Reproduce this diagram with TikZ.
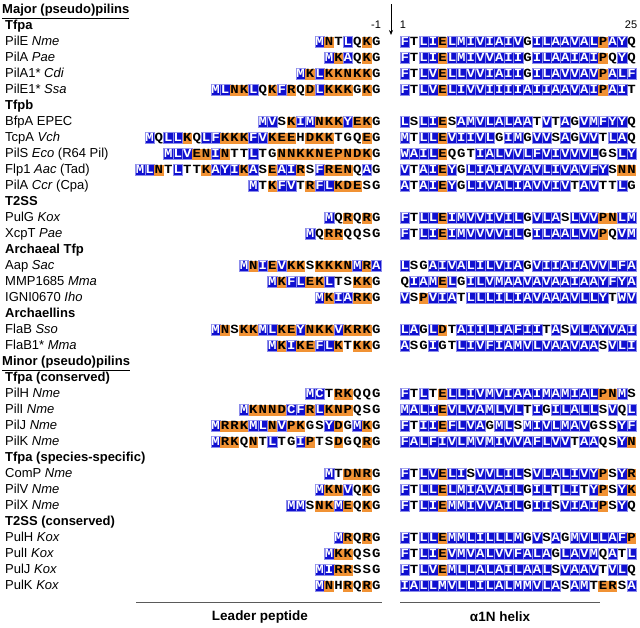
\documentclass[tikz,border=0pt]{standalone}
\usepackage{fontspec}
\setmainfont{Liberation Sans}
\newfontfamily\seqfont{Liberation Mono}[FakeStretch=1.12]
\usetikzlibrary{arrows.meta}
\definecolor{resblue}{RGB}{16,16,208}
\definecolor{resblueedge}{RGB}{140,140,235}
\definecolor{resorange}{RGB}{241,146,52}
\definecolor{rulegray}{RGB}{90,90,90}
\newcount\rescnt
\newcount\seqcount
\def\countloop#1{\ifx#1\relax\else\advance\seqcount by 1 \expandafter\countloop\fi}
\def\seqloop#1{\ifx#1\relax\else\resnode{#1}\expandafter\seqloop\fi}
\newcommand\resnode[1]{\global\advance\rescnt by 1
  \node[res,c#1] (r\the\rescnt) at (\curx+4.725,\cury) {#1};%
  \pgfmathsetmacro\curx{\curx+9.45}}
\newcommand\leaderseq[2]{\seqcount=0 \countloop#2\relax
  \pgfmathsetmacro\curx{381-\the\seqcount*9.45}\def\cury{#1}\seqloop#2\relax}
\newcommand\matureseq[2]{\def\curx{400}\def\cury{#1}\seqloop#2\relax}
\newcommand\seqrow[4]{\pgfmathsetmacro\rowy{9+16*#1}%
  \node[lab] (l#1) at (5,\rowy+4.8) {#2};%
  \leaderseq{\rowy+1}{#3}\matureseq{\rowy+1}{#4}}
\newcommand\hdrrow[2]{\pgfmathsetmacro\rowy{9+16*#1}%
  \node[hdr] (l#1) at (5,\rowy+4.8) {#2};}
\tikzset{
  lab/.style={anchor=base west, inner sep=0pt, font=\fontsize{13}{15}\selectfont},
  hdr/.style={lab, font=\fontsize{13}{15}\selectfont\bfseries},
  res/.style={minimum width=9.45pt, minimum height=11pt, inner sep=0pt,
    text height=9.2pt, text depth=1.8pt, font=\seqfont\bfseries\fontsize{12.5}{12.5}\selectfont},
  hyd/.style={fill=resblue, draw=resblueedge, line width=0.5pt, text=white},
  chg/.style={fill=resorange, text=black},
  neu/.style={text=black},
  cA/.style={hyd}, cV/.style={hyd}, cI/.style={hyd}, cL/.style={hyd}, cM/.style={hyd},
  cF/.style={hyd}, cY/.style={hyd}, cW/.style={hyd}, cC/.style={hyd},
  cK/.style={chg}, cR/.style={chg}, cE/.style={chg}, cD/.style={chg}, cN/.style={chg}, cP/.style={chg},
  cG/.style={neu}, cS/.style={neu}, cT/.style={neu}, cQ/.style={neu}, cH/.style={neu},
}
\begin{document}
\begin{tikzpicture}[x=1pt,y=-1pt]
\useasboundingbox (0,0) rectangle (640,627);
\node[hdr, anchor=base west] (major) at (2,13.8) {\underline{Major (pseudo)pilins}};
\hdrrow{1}{Tfpa}
\node[font=\fontsize{11}{12}\selectfont, inner sep=0pt] (m1) at (376,25) {-1};
\node[font=\fontsize{11}{12}\selectfont, inner sep=0pt] (p1) at (403,25) {1};
\node[font=\fontsize{11}{12}\selectfont, inner sep=0pt] (p25) at (631,25) {25};
\coordinate (arrtop) at (391,4);
\coordinate (arrbot) at (391,35);
\draw[line width=0.7pt, -{Stealth[length=5pt,width=4pt]}] (arrtop) -- (arrbot);
\seqrow{2}{PilE \textit{Nme}}{MNTLQKG}{FTLIELMIVIAIVGILAAVALPAYQ}
\seqrow{3}{PilA \textit{Pae}}{MKAQKG}{FTLIELMIVVAIIGILAAIAIPQYQ}
\seqrow{4}{PilA1* \textit{Cdi}}{MKLKKNKKG}{FTLVELLVVIAIIGILAVVAVPALF}
\seqrow{5}{PilE1* \textit{Ssa}}{MLNKLQKFRQDLKKKGKG}{FTLVELIVVIIIIAIIAAVAIPAIT}
\hdrrow{6}{Tfpb}
\seqrow{7}{BfpA EPEC}{MVSKIMNKKYEKG}{LSLIESAMVLALAATVTAGVMFYYQ}
\seqrow{8}{TcpA \textit{Vch}}{MQLLKQLFKKKFVKEEHDKKTGQEG}{MTLLEVIIVLGIMGVVSAGVVTLAQ}
\seqrow{9}{PilS \textit{Eco} (R64 Pil)}{MLVENINTTLTGNNKKNEPNDKG}{WAILEQGTIALVVLFVIVVVLGSLY}
\seqrow{10}{Flp1 \textit{Aac} (Tad)}{MLNTLTTKAYIKASEAIRSFRENQAG}{VTAIEYGLIAIAVAVLIVAVFYSNN}
\seqrow{11}{PilA \textit{Ccr} (Cpa)}{MTKFVTRFLKDESG}{ATAIEYGLIVALIAVVIVTAVTTLG}
\hdrrow{12}{T2SS}
\seqrow{13}{PulG \textit{Kox}}{MQRQRG}{FTLLEIMVVIVILGVLASLVVPNLM}
\seqrow{14}{XcpT \textit{Pae}}{MQRRQQSG}{FTLIEIMVVVVILGILAALVVPQVM}
\hdrrow{15}{Archaeal Tfp}
\seqrow{16}{Aap \textit{Sac}}{MNIEVKKSKKKNMRA}{LSGAIVALILVIAGVIIAIAVVLFA}
\seqrow{17}{MMP1685 \textit{Mma}}{MKFLEKLTSKKG}{QIAMELGILVMAAVAVAAIAAYFYA}
\seqrow{18}{IGNI0670 \textit{Iho}}{MKIARKG}{VSPVIATLLLILIAVAAAVLLYTWV}
\hdrrow{19}{Archaellins}
\seqrow{20}{FlaB \textit{Sso}}{MNSKKMLKEYNKKVKRKG}{LAGLDTAIILIAFIITASVLAYVAI}
\seqrow{21}{FlaB1* \textit{Mma}}{MKIKEFLKTKKG}{ASGIGTLIVFIAMVLVAAVAASVLI}
\node[hdr, anchor=base west] (minor) at (2,365.8) {\underline{Minor (pseudo)pilins}};
\hdrrow{23}{Tfpa (conserved)}
\seqrow{24}{PilH \textit{Nme}}{MCTRKQQG}{FTLTELLIVMVIAAIMAMIALPNMS}
\seqrow{25}{PilI \textit{Nme}}{MKNNDCFRLKNPQSG}{MALIEVLVAMLVLTIGILALLSVQL}
\seqrow{26}{PilJ \textit{Nme}}{MRRKMLNVPKGSYDGMKG}{FTIIEFLVAGMLSMIVLMAVGSSYF}
\seqrow{27}{PilK \textit{Nme}}{MRKQNTLTGIPTSDGQRG}{FALFIVLMVMIVVAFLVVTAAQSYN}
\hdrrow{28}{Tfpa (species-specific)}
\seqrow{29}{ComP \textit{Nme}}{MTDNRG}{FTLVELISVVLILSVLALIVYPSYR}
\seqrow{30}{PilV \textit{Nme}}{MKNVQKG}{FTLLELMIAVAILGILTLITYPSYK}
\seqrow{31}{PilX \textit{Nme}}{MMSNKMEQKG}{FTLIEMMIVVAILGIISVIAIPSYQ}
\hdrrow{32}{T2SS (conserved)}
\seqrow{33}{PulH \textit{Kox}}{MRQRG}{FTLLEMMLILLLMGVSAGMVLLAFP}
\seqrow{34}{PulI \textit{Kox}}{MKKQSG}{FTLIEVMVALVVFALAGLAVMQATL}
\seqrow{35}{PulJ \textit{Kox}}{MIRRSSG}{FTLVEMLLALAILAALSVAAVTVLQ}
\seqrow{36}{PulK \textit{Kox}}{MNHRQRG}{IALLMVLLILALMMVLASAMTERSA}
\coordinate (lpL) at (136,602);
\coordinate (lpR) at (382,602);
\coordinate (hxL) at (400,602);
\coordinate (hxR) at (600,602);
\draw[rulegray, line width=0.9pt] (lpL) -- (lpR);
\draw[rulegray, line width=0.9pt] (hxL) -- (hxR);
\node[font=\fontsize{13.5}{15}\selectfont\bfseries, inner sep=0pt] (leadlab) at (260,617) {Leader peptide};
\node[font=\fontsize{13.5}{15}\selectfont\bfseries, inner sep=0pt] (helixlab) at (500,617) {α1N helix};
\end{tikzpicture}
\end{document}
